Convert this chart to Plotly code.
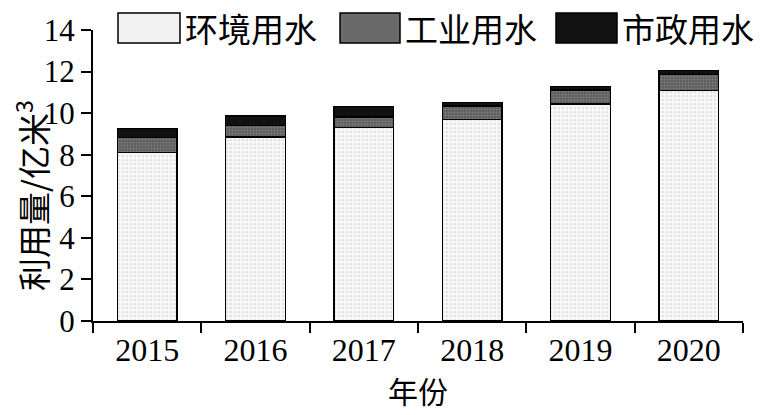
import plotly.graph_objects as go

years = ["2015", "2016", "2017", "2018", "2019", "2020"]
env_water = [8.1, 8.85, 9.3, 9.7, 10.45, 11.1]
ind_water = [0.72, 0.56, 0.52, 0.65, 0.67, 0.77]
mun_water = [0.45, 0.45, 0.5, 0.16, 0.17, 0.18]
series_names = ["环境用水", "工业用水", "市政用水"]
y_title = "利用量/亿米<sup>3</sup>"
x_title = "年份"
y_ticks = [0, 2, 4, 6, 8, 10, 12, 14]

W, H = 778, 415
L, R, T, B = 93, 35, 30, 94
CJK = "Noto Sans CJK SC"

styles = [
    dict(color="#f3f3f3", pattern=dict(shape=".", fgcolor="#a8a8a8", bgcolor="#f6f6f6", size=4, solidity=0.15)),
    dict(color="#6f6f6f", pattern=dict(shape=".", fgcolor="#a0a0a0", bgcolor="#5e5e5e", size=3, solidity=0.3)),
    dict(color="#111111"),
]

fig = go.Figure()
for name, vals, st in zip(series_names, [env_water, ind_water, mun_water], styles):
    fig.add_trace(go.Bar(
        x=years, y=vals, name=name,
        marker=dict(line=dict(color="#000000", width=1.5), **st),
        showlegend=False,
    ))

# convert screen pixels to paper coordinates
def px_x(p):
    return (p - L) / (W - L - R)

def px_y(p):
    return (H - B - p) / (H - T - B)

# manual legend (large swatches as in the reference)
swatches = [(118, 180, "#f1f1f1", 183), (340, 400, "#6a6a6a", 403), (556, 617, "#111111", 620)]
shapes = []
annotations = []
for (x0, x1, col, tx), name in zip(swatches, series_names):
    shapes.append(dict(type="rect", xref="paper", yref="paper",
                       x0=px_x(x0), x1=px_x(x1), y0=px_y(43), y1=px_y(13),
                       fillcolor=col, line=dict(color="#000000", width=1.5)))
    annotations.append(dict(xref="paper", yref="paper", x=px_x(tx), y=px_y(28),
                            xanchor="left", yanchor="middle", showarrow=False,
                            text=name, font=dict(family=CJK, size=33, color="#000000")))

annotations.append(dict(xref="paper", yref="paper", x=px_x(31), y=px_y(196),
                        xanchor="center", yanchor="middle", showarrow=False, textangle=-90,
                        text=y_title, font=dict(family=CJK, size=33, color="#000000")))

fig.update_layout(
    width=W, height=H,
    margin=dict(l=L, r=R, t=T, b=B, pad=0, autoexpand=False),
    paper_bgcolor="#ffffff", plot_bgcolor="#ffffff",
    barmode="stack", bargap=0.45,
    shapes=shapes, annotations=annotations,
    font=dict(family="Liberation Serif", color="#000000"),
)
fig.update_xaxes(
    type="category", showline=True, linecolor="#000000", linewidth=2, automargin=False,
    ticks="outside", tickson="boundaries", ticklen=10, tickwidth=2, tickcolor="#000000",
    tickfont=dict(family="Liberation Serif", size=32, color="#000000"),
    showgrid=False, zeroline=False,
    title=dict(text=x_title, font=dict(family=CJK, size=30, color="#000000"), standoff=4),
)
fig.update_yaxes(
    range=[0, 14], tickvals=y_ticks, showline=True, linecolor="#000000", linewidth=2, automargin=False,
    ticks="outside", ticklen=10, tickwidth=2, tickcolor="#000000",
    tickfont=dict(family="Liberation Serif", size=31, color="#000000"),
    showgrid=False, zeroline=False,
)

fig.write_html("out.html", config={"displayModeBar": False},
               post_script="document.body.style.margin='0';")
